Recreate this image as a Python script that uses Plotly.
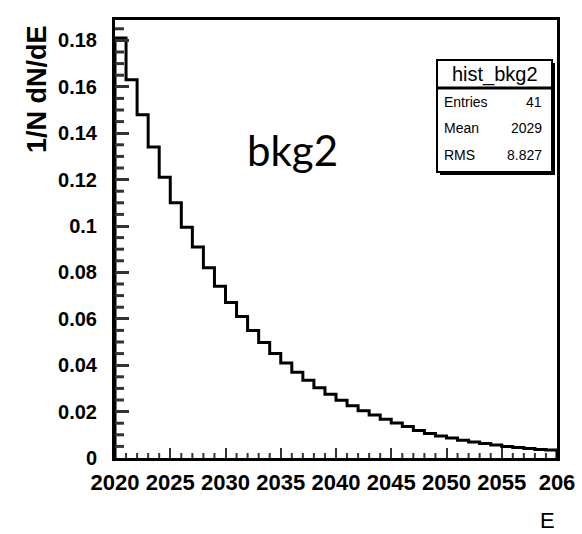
import plotly.graph_objects as go

# ---- data ----
bin_low = 2020
bin_width = 1
values = [0.181, 0.163, 0.148, 0.134, 0.121, 0.110, 0.0995, 0.091, 0.082, 0.074,
          0.067, 0.061, 0.055, 0.0498, 0.045, 0.041, 0.037, 0.0335, 0.0303, 0.0275,
          0.0249, 0.0225, 0.0204, 0.0185, 0.0167, 0.0151, 0.0136, 0.0118, 0.0106, 0.0095,
          0.0086, 0.0077, 0.0069, 0.0062, 0.0056, 0.0050, 0.0045, 0.0041, 0.0037, 0.0034]
x_tick_vals = [2020, 2025, 2030, 2035, 2040, 2045, 2050, 2055, 2060]
x_tick_text = ["2020", "2025", "2030", "2035", "2040", "2045", "2050", "2055", "206"]
y_tick_vals = [0, 0.02, 0.04, 0.06, 0.08, 0.1, 0.12, 0.14, 0.16, 0.18]
y_tick_text = ["0", "0.02", "0.04", "0.06", "0.08", "0.1", "0.12", "0.14", "0.16", "0.18"]
stats_title = "hist_bkg2"
stats_labels = ["Entries", "Mean", "RMS"]
stats_values = ["41", "2029", "8.827"]

# ---- geometry ----
W, H = 582, 534
L, R, T, B = 115, 557, 20, 458
XMIN, XMAX = 2020, 2060
YMAX = (B - T) / 2320
PW, PH = R - L, B - T
TICKC = "#333333"


def px(x):
    return (x - L) / PW


def py(y):
    return (B - y) / PH


edges = [bin_low + i * bin_width for i in range(len(values) + 1)]
xs = [edges[0]] + edges + [edges[-1]]
ys = [0] + values + [values[-1], 0]

FONT = "Liberation Sans, Arial, sans-serif"

fig = go.Figure()
fig.add_trace(go.Scatter(x=xs, y=ys, mode="lines", line=dict(color="black", width=3, shape="hv"),
                         hoverinfo="skip", showlegend=False))

fig.update_layout(
    template="none",
    width=W, height=H,
    margin=dict(l=L, r=W - R, t=T, b=H - B),
    plot_bgcolor="white", paper_bgcolor="white",
    showlegend=False,
    xaxis=dict(range=[XMIN, XMAX], showgrid=False, zeroline=False,
               showline=True, linecolor="black", linewidth=3, mirror=True,
               ticks="inside", ticklen=10, tickwidth=2, tickcolor=TICKC,
               tickmode="array", tickvals=x_tick_vals, ticktext=x_tick_text,
               ticklabelstandoff=3,
               tickfont=dict(family=FONT, size=22, color="black", weight="bold")),
    yaxis=dict(range=[0, YMAX], showgrid=False, zeroline=False,
               showline=True, linecolor="black", linewidth=3, mirror=True,
               ticks="inside", ticklen=14, tickwidth=3, tickcolor=TICKC,
               tickmode="array", tickvals=y_tick_vals, ticktext=y_tick_text,
               ticklabelstandoff=11,
               tickfont=dict(family=FONT, size=20, color="black", weight="bold")),
)

# minor ticks (axis decoration) as shapes
for i in range(41):
    if i % 5:
        e = XMIN + i
        fig.add_shape(type="line", xref="x", yref="paper", x0=e, x1=e, y0=0, y1=5 / PH,
                      line=dict(color=TICKC, width=2))
for i in range(38):
    if i % 4:
        v = i * 0.005
        fig.add_shape(type="line", xref="paper", yref="y", x0=0, x1=9 / PW, y0=v, y1=v,
                      line=dict(color=TICKC, width=3))


def ann(x, y, text, size, xanchor="center", yanchor="middle", angle=0, family=FONT):
    fig.add_annotation(x=px(x), y=py(y), xref="paper", yref="paper", text=text,
                       showarrow=False, xanchor=xanchor, yanchor=yanchor, textangle=angle,
                       font=dict(family=family, size=size, color="black"))


# axis titles
ann(37, 89, "<b>1/N dN/dE</b>", 27, angle=-90)
ann(547, 520, "E", 22)
# big label
ann(292, 150, "bkg2", 42, family="Lato, Open Sans, sans-serif")

# stats box
bx0, bx1, by0, by1, ysep = 437, 552, 60, 172, 88
fig.add_shape(type="rect", xref="paper", yref="paper",
              x0=px(bx0 + 3), x1=px(bx1 + 3), y0=py(by0 + 3), y1=py(by1 + 3),
              fillcolor="black", line=dict(color="black", width=0))
fig.add_shape(type="rect", xref="paper", yref="paper",
              x0=px(bx0), x1=px(bx1), y0=py(by0), y1=py(by1),
              fillcolor="white", line=dict(color="black", width=2))
fig.add_shape(type="line", xref="paper", yref="paper",
              x0=px(bx0), x1=px(bx1), y0=py(ysep), y1=py(ysep),
              line=dict(color="black", width=3))
ann((bx0 + bx1) / 2, 74, stats_title, 20)
row_y = [102, 128, 155]
for lab, val, yy in zip(stats_labels, stats_values, row_y):
    ann(bx0 + 5, yy, lab, 14, xanchor="left")
    ann(bx1 - 8, yy, val, 14, xanchor="right")

fig.write_html("out.html")
